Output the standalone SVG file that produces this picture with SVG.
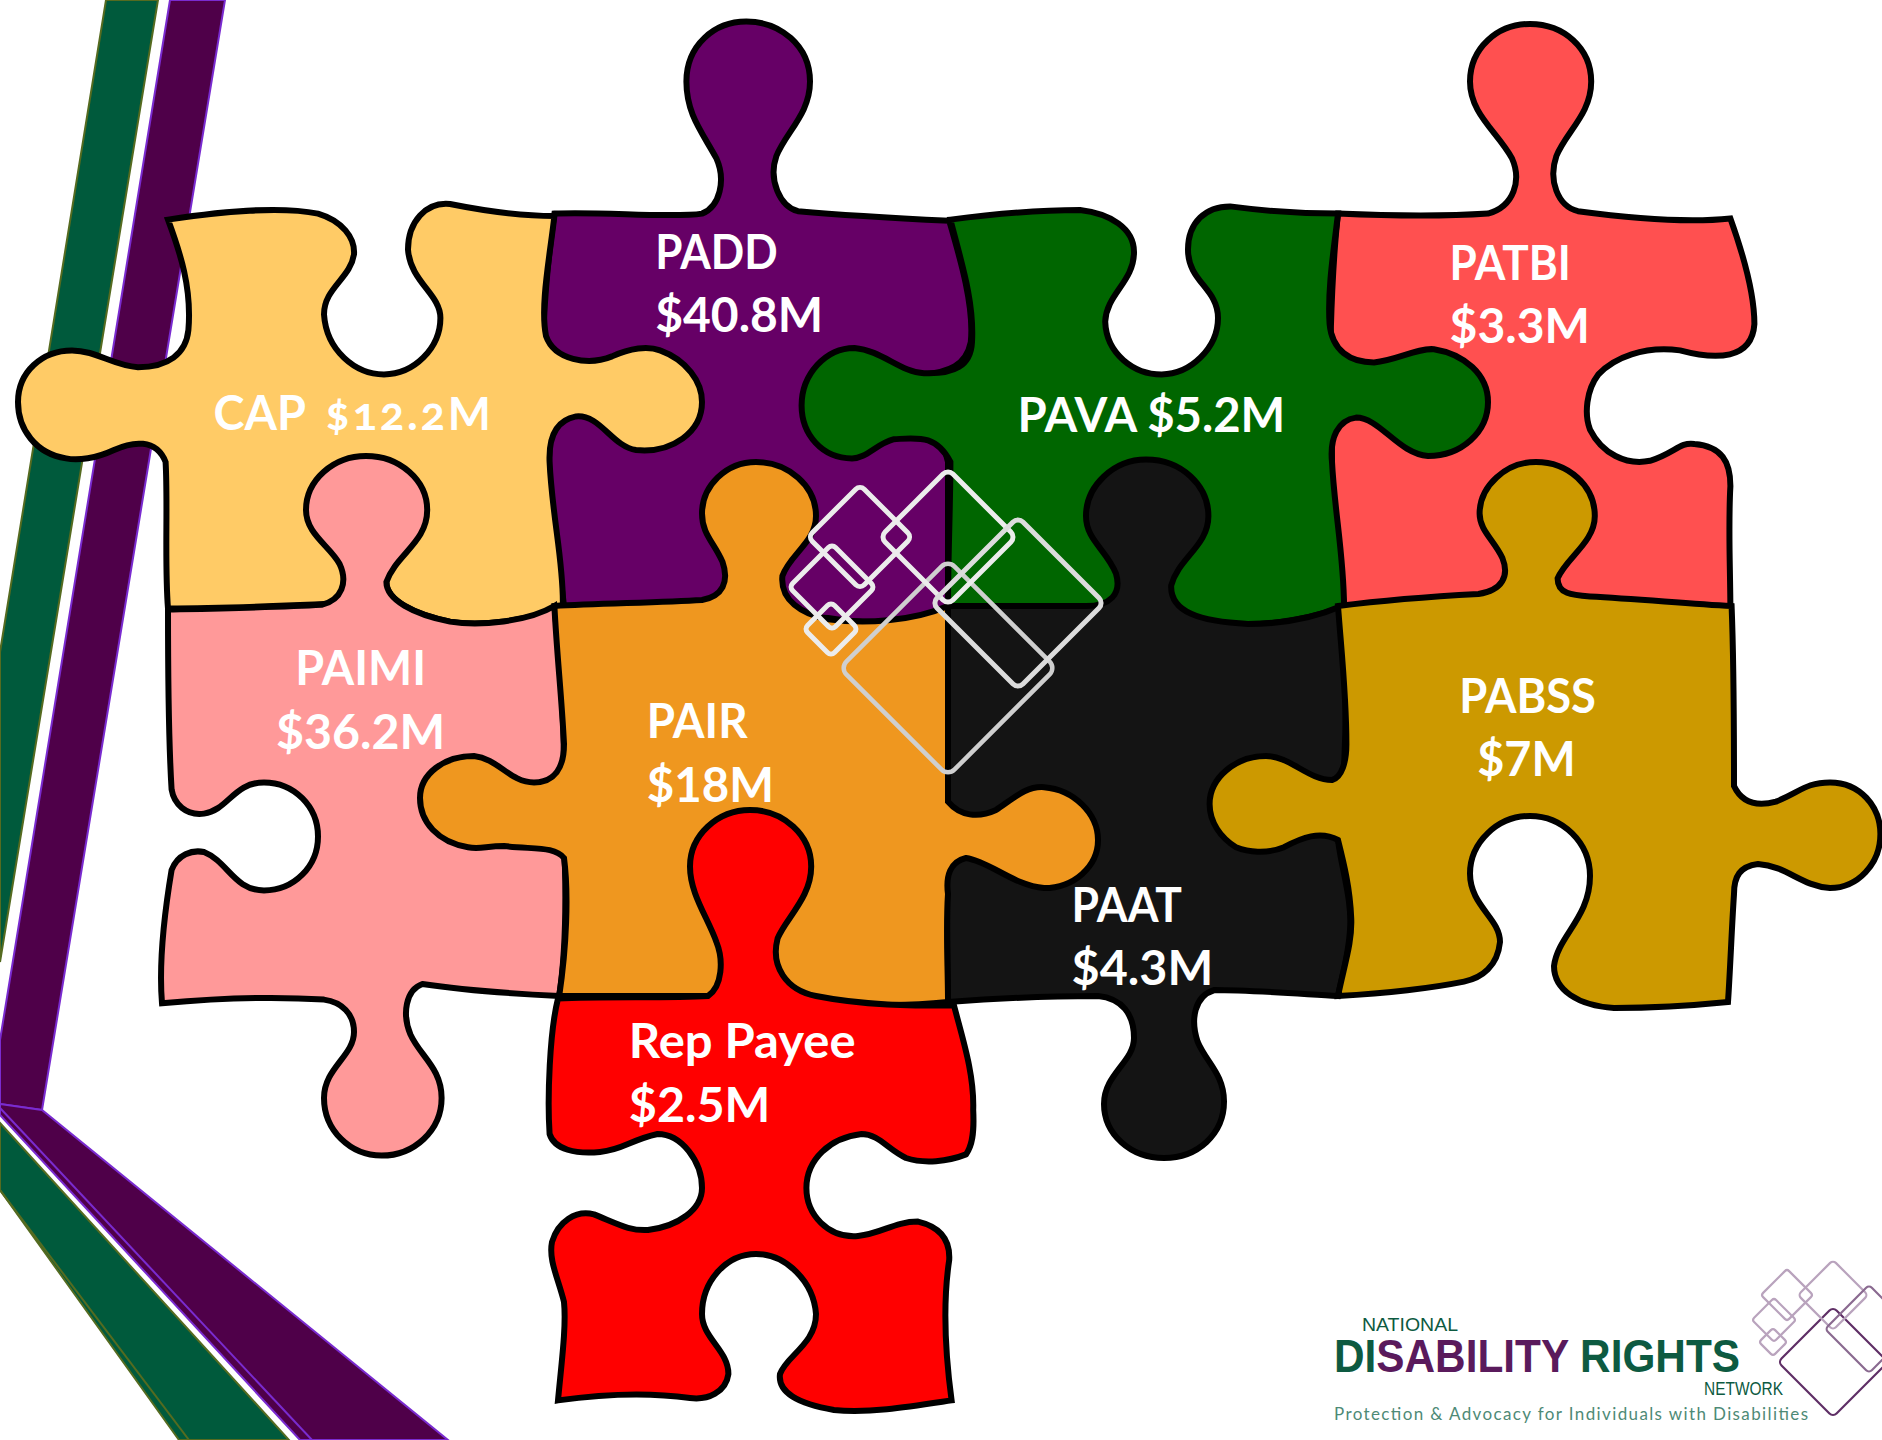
<svg xmlns="http://www.w3.org/2000/svg" width="1882" height="1440" viewBox="0 0 1882 1440">
<style>
.p{stroke:#000;stroke-width:5;stroke-linejoin:miter}
.t{font-family:"Lato","Open Sans",sans-serif;font-weight:700;font-size:39px;fill:#fff}
.o{font-variant-numeric:oldstyle-nums}
.wd rect,.pd rect{fill:none}
.wd rect{stroke:#ececec;stroke-width:5}
.pd rect{stroke:#b9a3bd;stroke-width:2.2}
.bp{fill:#4f0049;stroke:#7a2bd0;stroke-width:2}
.bg{fill:#005a3c;stroke:#556b20;stroke-width:2}
</style>
<rect width="1882" height="1440" fill="#fff"/>
<g id="bands">
<polygon class="bg" points="106,0 158,0 0,962 0,652"/>
<polygon class="bp" points="170,0 225,0 42,1110 0,1104 0,1040"/>
<polygon class="bg" points="0,1123 289,1440 179,1440 0,1190"/>
<path d="M0,1190L189,1440" fill="none" stroke="#556b20" stroke-width="2"/>
<polygon class="bp" points="0,1104 42,1110 448,1440 300,1440 0,1115"/>
<path d="M0,1108L312,1440" fill="none" stroke="#7a2bd0" stroke-width="2"/>
</g>
<g transform="scale(1.2)">
<g id="PADD"><path class="p" fill="#660066" d="M462,178C500,176 560,182 585,178C600,172 605,150 597,132C585,110 572,95 572,68C572,38 595,18 622,18C650,18 675,38 675,68C675,95 655,110 647,130C640,150 650,172 665,176C710,180 750,182 791,184C800,215 812,255 809,285C805,305 790,310 770,312L790,385L790,510C760,520 720,520 690,515L470,505C465,460 455,410 458,375C455,340 452,300 453,270C455,235 458,205 462,178Z"/></g>
<g id="PATBI"><path class="p" fill="#ff5050" d="M1115,178C1160,180 1210,180 1240,178C1262,172 1268,150 1260,132C1248,110 1225,95 1225,68C1225,40 1248,20 1275,20C1303,20 1326,40 1326,68C1326,95 1305,110 1297,130C1290,150 1298,172 1315,176C1360,182 1405,186 1442,182C1452,210 1462,245 1462,270C1460,300 1430,300 1400,292C1370,288 1345,298 1332,312C1322,325 1320,345 1325,358C1335,378 1355,388 1375,384C1395,378 1400,368 1412,370C1435,372 1442,385 1442,405C1440,440 1442,475 1442,510L1120,505C1115,460 1108,420 1110,385L1109,275C1110,240 1112,205 1115,178Z"/></g>
<g id="PAVA"><path class="p" fill="#006600" d="M792,183C830,178 870,175 900,175C925,178 945,190 945,210C945,235 922,245 921,268C922,295 945,312 968,312C992,312 1015,290 1015,265C1015,240 990,235 990,208C990,185 1005,172 1025,172C1055,176 1085,178 1115,178C1112,205 1106,240 1108,270C1110,292 1125,302 1145,302C1165,300 1180,290 1195,291C1220,295 1240,312 1240,335C1240,360 1218,380 1190,380C1165,378 1150,348 1130,348C1115,350 1108,365 1110,385C1112,425 1120,465 1120,505C1095,515 1065,520 1040,520C1000,520 975,515 960,505L790,505C790,465 792,420 792,385C780,362 765,365 745,366C730,370 722,382 710,382C685,382 668,362 668,338C668,312 688,290 712,290C735,292 750,310 770,311C795,312 809,305 810,285C812,250 800,215 792,183Z"/></g>
<g id="CAP"><path class="p" fill="#ffcb66" d="M140,183C185,176 235,172 265,178C285,184 296,198 295,212C292,232 270,240 270,262C272,292 296,312 320,312C345,312 367,290 367,265C367,245 342,235 340,208C340,185 355,168 375,170C405,176 435,180 462,180C458,215 450,255 455,280C462,300 490,305 510,297C525,290 540,288 550,292C572,300 585,318 585,335C585,360 560,378 530,375C510,372 500,345 480,347C465,350 457,362 458,385C460,430 470,470 469,505C440,518 400,522 375,518C345,512 322,500 322,485L280,503C235,505 185,507 140,507C137,470 140,420 138,385C130,365 110,368 95,375C80,382 65,384 55,382C30,378 15,358 15,335C15,310 35,292 60,292C80,292 95,305 115,306C140,306 155,295 157,275C160,240 150,210 140,183Z"/></g>
<g id="PAAT"><path class="p" fill="#141414" d="M790,505L905,505C925,505 935,495 930,478C922,458 905,450 905,430C905,405 928,383 955,383C985,383 1007,405 1007,430C1007,455 982,465 976,488C975,510 1000,518 1040,520C1070,520 1095,515 1118,505C1122,550 1122,600 1120,640L1115,700C1118,725 1127,750 1125,775C1124,795 1118,815 1115,830C1080,828 1040,825 1012,825C995,830 992,850 998,868C1005,885 1020,895 1020,918C1020,945 998,965 970,965C942,965 920,945 920,920C920,895 945,885 945,865C945,845 935,832 915,830C875,830 830,832 790,835C788,730 790,620 790,505Z"/></g>
<g id="PAIMI"><path class="p" fill="#ff9999" d="M140,508C185,507 235,506 268,504C285,500 290,485 283,470C275,455 255,445 255,425C255,400 278,380 305,380C333,380 356,400 356,425C356,452 330,462 322,485C322,500 345,512 375,518C400,522 440,518 462,505C466,545 470,590 470,640L470,700C472,745 472,790 466,830C425,828 385,825 352,820C338,825 335,845 342,862C350,880 368,890 368,915C368,942 345,963 318,963C292,963 270,942 270,915C270,890 295,880 295,860C295,845 285,835 270,833C225,830 180,832 135,836C132,800 138,755 143,725C148,712 160,708 170,710C190,718 195,742 220,742C245,742 265,722 265,697C265,672 245,652 220,652C195,652 190,675 170,678C155,680 145,670 143,658C140,610 140,560 140,508Z"/></g>
<g id="PAIR"><path class="p" fill="#ef971f" d="M462,505C500,503 550,502 585,500C602,497 608,485 602,468C595,452 585,445 585,428C585,405 605,385 630,385C657,385 680,405 680,430C680,452 658,462 652,480C650,500 668,512 690,516C720,520 760,518 790,505C790,560 790,620 790,668C800,680 815,682 830,675C845,665 855,655 870,656C895,658 915,678 915,700C915,722 895,740 870,740C845,738 825,718 805,715C792,718 788,730 790,745C788,775 790,805 790,835C760,838 725,838 700,835C670,830 640,815 600,830L466,830C472,790 474,745 470,715C462,705 445,708 420,705C405,705 400,708 390,706C365,702 350,685 350,665C350,645 370,630 395,630C415,632 425,652 445,652C462,652 470,640 470,620C468,580 464,545 462,505Z"/></g>
<g id="PABSS"><path class="p" fill="#cc9900" d="M1115,505C1155,500 1195,497 1232,495C1252,492 1258,480 1252,465C1245,450 1233,442 1233,428C1233,405 1255,385 1280,385C1307,385 1329,405 1329,430C1329,452 1305,465 1298,482C1298,495 1310,496 1325,497C1365,499 1405,503 1443,505C1445,555 1445,605 1445,655C1452,670 1465,672 1480,668C1500,660 1505,652 1525,652C1550,652 1567,672 1567,695C1567,720 1548,740 1525,740C1500,738 1490,722 1465,720C1450,722 1445,730 1445,745C1443,775 1442,805 1440,835C1410,838 1375,840 1345,840C1315,838 1295,825 1295,805C1298,780 1325,765 1325,730C1325,702 1302,680 1275,680C1248,680 1225,702 1225,728C1225,755 1250,765 1250,785C1248,805 1235,815 1220,818C1185,825 1150,828 1115,830C1120,805 1127,785 1126,765C1125,740 1120,720 1115,700C1100,692 1085,698 1070,706C1055,712 1040,710 1030,706C1017,698 1008,685 1008,670C1008,648 1030,630 1055,630C1075,630 1090,650 1110,650C1118,648 1122,635 1122,620C1122,580 1118,545 1115,505Z"/></g>
<g id="RepPayee"><path class="p" fill="#ff0000" d="M465,832C505,830 555,832 590,830C602,822 603,800 597,785C590,765 575,745 575,722C575,696 598,675 625,675C653,675 676,696 676,722C676,748 655,765 648,782C642,805 655,825 680,830C720,838 760,838 795,838C802,865 812,895 811,925C812,945 810,955 805,962C790,968 770,970 755,965C740,958 732,945 718,945C692,948 672,966 672,990C672,1012 690,1032 715,1030C735,1028 745,1018 765,1018C782,1022 792,1032 791,1050C785,1090 788,1130 793,1167C760,1172 725,1178 695,1175C665,1170 648,1160 650,1145C655,1130 680,1120 680,1095C678,1068 655,1045 630,1045C605,1045 585,1068 585,1095C585,1115 607,1125 607,1145C605,1160 590,1167 575,1165C540,1160 500,1162 465,1167C468,1135 472,1105 470,1085C465,1065 457,1050 460,1035C465,1018 480,1008 495,1012C515,1020 525,1026 540,1025C565,1022 585,1008 585,990C585,968 568,945 548,945C525,950 520,958 500,960C480,962 462,958 458,945C456,915 458,860 465,832Z"/></g>
<g class="labels">
<text class="t" x="546" y="224" textLength="102" lengthAdjust="spacingAndGlyphs">PADD</text><text class="t" x="546" y="277" textLength="140" lengthAdjust="spacingAndGlyphs">$40.8M</text>
<text class="t" x="1208" y="233" textLength="101" lengthAdjust="spacingAndGlyphs">PATBI</text><text class="t" x="1208" y="286" textLength="117" lengthAdjust="spacingAndGlyphs">$3.3M</text>
<text class="t" x="848" y="360" textLength="223" lengthAdjust="spacingAndGlyphs">PAVA $5.2M</text>
<text class="t" x="178" y="358">CAP <tspan class="o" x="271" font-size="38" letter-spacing="2.2">$12.2M</tspan></text>
<text class="t" x="246" y="571" textLength="109" lengthAdjust="spacingAndGlyphs">PAIMI</text><text class="t" x="230" y="624" textLength="141" lengthAdjust="spacingAndGlyphs">$36.2M</text>
<text class="t" x="539" y="615" textLength="84" lengthAdjust="spacingAndGlyphs">PAIR</text><text class="t" x="539" y="668" textLength="106" lengthAdjust="spacingAndGlyphs">$18M</text>
<text class="t" x="1216" y="594" textLength="114" lengthAdjust="spacingAndGlyphs">PABSS</text><text class="t" x="1231" y="647" textLength="82" lengthAdjust="spacingAndGlyphs">$7M</text>
<text class="t" x="893" y="768" textLength="92" lengthAdjust="spacingAndGlyphs">PAAT</text><text class="t" x="893" y="821" textLength="118" lengthAdjust="spacingAndGlyphs">$4.3M</text>
<text class="t" x="524" y="882" textLength="189" lengthAdjust="spacingAndGlyphs">Rep Payee</text><text class="t" x="524" y="935" textLength="118" lengthAdjust="spacingAndGlyphs">$2.5M</text>
</g>
</g>
<g id="logo-mark" class="wd">
<rect x="-76.4" y="-76.4" width="152.8" height="152.8" rx="9" transform="translate(948 668) rotate(45)" style="stroke:#cfcfcf;stroke-width:4.5"/>
<rect x="-48" y="-48" width="96" height="96" rx="7" transform="translate(948 537) rotate(45)"/>
<rect x="-60.8" y="-60.8" width="121.6" height="121.6" rx="7" transform="translate(1018 603) rotate(45)" style="stroke:#dcdcdc"/>
<rect x="-36.8" y="-36.8" width="73.6" height="73.6" rx="6" transform="translate(860 537) rotate(45)"/>
<rect x="-30.4" y="-30.4" width="60.8" height="60.8" rx="5" transform="translate(832 587) rotate(45)"/>
<rect x="-19.1" y="-19.1" width="38.2" height="38.2" rx="5" transform="translate(831 629) rotate(45)"/>
</g>
<g id="logo" class="pd">
<rect x="-38.9" y="-38.9" width="77.8" height="77.8" rx="5" transform="translate(1833 1362) rotate(45)" style="stroke:#5f2f66"/>
<rect x="-24.7" y="-24.7" width="49.5" height="49.5" rx="4" transform="translate(1833 1295) rotate(45)"/>
<rect x="-31.1" y="-31.1" width="62.2" height="62.2" rx="4" transform="translate(1869 1329) rotate(45)" style="stroke:#8a6a90"/>
<rect x="-18.4" y="-18.4" width="36.8" height="36.8" rx="3" transform="translate(1787 1295) rotate(45)"/>
<rect x="-15.6" y="-15.6" width="31.1" height="31.1" rx="3" transform="translate(1774 1320) rotate(45)"/>
<rect x="-9.9" y="-9.9" width="19.8" height="19.8" rx="3" transform="translate(1773 1342) rotate(45)"/>
<text x="1362" y="1331" font-family="Liberation Sans, sans-serif" font-size="19" fill="#0d5a41" textLength="96" lengthAdjust="spacingAndGlyphs">NATIONAL</text>
<text x="1334" y="1372" font-family="Liberation Sans, sans-serif" font-weight="700" font-size="47" fill="#0d5a41" textLength="406" lengthAdjust="spacingAndGlyphs">DI<tspan fill="#5a1a5c">SABILITY</tspan> RIGHTS</text>
<text x="1704" y="1395" font-family="Liberation Sans, sans-serif" font-size="19" fill="#0d5a41" textLength="79" lengthAdjust="spacingAndGlyphs">NETWORK</text>
<text x="1334" y="1420" font-family="Lato, sans-serif" font-size="17" fill="#4e8a76" textLength="474">Protection &amp; Advocacy for Individuals with Disabilities</text>
</g>
</svg>
